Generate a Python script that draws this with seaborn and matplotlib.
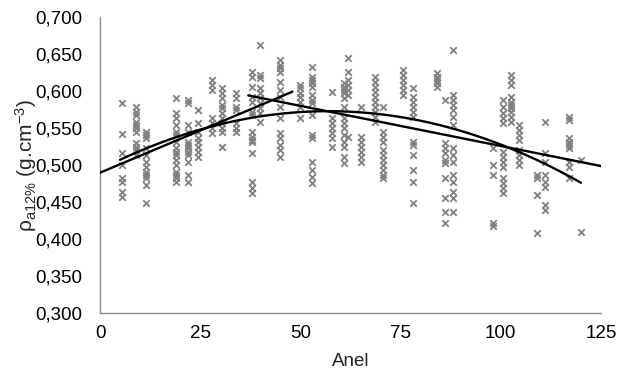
import numpy as np
import pandas as pd
import matplotlib
matplotlib.use("Agg")
import matplotlib.pyplot as plt
import seaborn as sns
from matplotlib.ticker import FuncFormatter

# ---- data ----
rings = [5.5, 9, 11.5, 19, 22, 24.5, 28, 30.5, 34, 38, 40, 45, 50, 53, 58, 61, 62,
         65, 68.5, 70.5, 75.5, 78, 84, 86, 88, 98, 100.5, 102.5, 104.5, 109, 111, 117, 120]
density = [
    [0.584, 0.542, 0.516, 0.500, 0.482, 0.477, 0.464, 0.457],
    [0.578, 0.572, 0.568, 0.558, 0.554, 0.550, 0.545, 0.530, 0.524, 0.520, 0.513],
    [0.545, 0.541, 0.536, 0.523, 0.514, 0.504, 0.497, 0.491, 0.486, 0.482, 0.473, 0.449],
    [0.591, 0.570, 0.564, 0.554, 0.545, 0.541, 0.531, 0.523, 0.518, 0.514, 0.507, 0.500, 0.491, 0.486, 0.482, 0.477],
    [0.588, 0.584, 0.554, 0.545, 0.531, 0.527, 0.523, 0.518, 0.514, 0.504, 0.486, 0.477],
    [0.574, 0.557, 0.545, 0.536, 0.531, 0.524, 0.518, 0.511],
    [0.615, 0.608, 0.601, 0.564, 0.557, 0.550, 0.543],
    [0.604, 0.597, 0.591, 0.581, 0.577, 0.570, 0.564, 0.557, 0.550, 0.545, 0.524],
    [0.597, 0.591, 0.578, 0.574, 0.557, 0.550, 0.545],
    [0.626, 0.619, 0.605, 0.592, 0.585, 0.572, 0.568, 0.545, 0.538, 0.534, 0.531, 0.516, 0.477, 0.469, 0.462],
    [0.662, 0.622, 0.618, 0.604, 0.597, 0.591, 0.584, 0.577, 0.570, 0.558],
    [0.642, 0.635, 0.631, 0.626, 0.612, 0.601, 0.592, 0.578, 0.564, 0.543, 0.536, 0.527, 0.520, 0.511],
    [0.608, 0.604, 0.597, 0.592, 0.585, 0.578, 0.564],
    [0.632, 0.619, 0.615, 0.611, 0.605, 0.595, 0.588, 0.584, 0.568, 0.541, 0.536, 0.504, 0.493, 0.484, 0.476],
    [0.599, 0.564, 0.557, 0.550, 0.543, 0.536, 0.524],
    [0.611, 0.605, 0.601, 0.597, 0.591, 0.578, 0.564, 0.557, 0.550, 0.541, 0.531, 0.524, 0.511, 0.503],
    [0.645, 0.626, 0.615, 0.608, 0.601, 0.595, 0.538],
    [0.578, 0.538, 0.531, 0.524, 0.518, 0.511, 0.504],
    [0.619, 0.612, 0.605, 0.599, 0.592, 0.585, 0.578, 0.572, 0.565, 0.558],
    [0.578, 0.545, 0.538, 0.531, 0.520, 0.514, 0.507, 0.500, 0.493, 0.486, 0.482],
    [0.628, 0.622, 0.615, 0.608, 0.601, 0.595],
    [0.604, 0.592, 0.585, 0.578, 0.572, 0.565, 0.531, 0.527, 0.514, 0.493, 0.477, 0.449],
    [0.624, 0.619, 0.615, 0.611, 0.605],
    [0.588, 0.530, 0.523, 0.516, 0.507, 0.503, 0.482, 0.455, 0.436, 0.422],
    [0.655, 0.595, 0.588, 0.581, 0.574, 0.565, 0.554, 0.523, 0.514, 0.504, 0.486, 0.477, 0.464, 0.455, 0.436],
    [0.523, 0.500, 0.486, 0.422, 0.418],
    [0.588, 0.578, 0.570, 0.564, 0.557, 0.518, 0.511, 0.504, 0.497, 0.482, 0.476, 0.469, 0.462],
    [0.622, 0.615, 0.608, 0.592, 0.585, 0.581, 0.577, 0.572, 0.565, 0.558],
    [0.554, 0.547, 0.541, 0.534, 0.520, 0.514, 0.507, 0.500],
    [0.486, 0.482, 0.459, 0.408],
    [0.558, 0.516, 0.504, 0.486, 0.477, 0.470, 0.446, 0.439],
    [0.565, 0.561, 0.536, 0.531, 0.527, 0.523, 0.504, 0.497, 0.482],
    [0.507, 0.409],
]

# trendlines (coefficients), highest power first
quad_coef = [-0.00002434, 0.002773, 0.49374]
quad_range = [5, 120]
lin1_coef = [0.00228, 0.4896]
lin1_range = [0, 48]
lin2_coef = [-0.001084, 0.6341]
lin2_range = [37, 125]

x_ticks = [0, 25, 50, 75, 100, 125]
y_ticks = [0.300, 0.350, 0.400, 0.450, 0.500, 0.550, 0.600, 0.650, 0.700]

# ---- build table ----
df = pd.DataFrame(
    [(r, v) for r, vals in zip(rings, density) for v in vals],
    columns=["Anel", "dens"],
)

sns.set_theme(style="white")
plt.rcParams["font.family"] = ["Liberation Sans", "DejaVu Sans"]
plt.rcParams["mathtext.fontset"] = "custom"
plt.rcParams["mathtext.rm"] = "Liberation Sans"
plt.rcParams["mathtext.it"] = "Liberation Sans:italic"

fig = plt.figure(figsize=(6.2, 3.73), dpi=100)
ax = fig.add_axes([100 / 620, 1 - 313 / 373, 501 / 620, 296 / 373])

sns.scatterplot(data=df, x="Anel", y="dens", marker="x", color="#808080",
                s=22, linewidth=1.3, ax=ax, zorder=2)

for coef, rng in [(quad_coef, quad_range), (lin1_coef, lin1_range), (lin2_coef, lin2_range)]:
    xs = np.linspace(rng[0], rng[1], 200)
    sns.lineplot(x=xs, y=np.polyval(coef, xs), color="black", linewidth=1.7, ax=ax, zorder=3)

ax.set_xlim(0, 125)
ax.set_ylim(0.3, 0.7)
ax.set_xticks(x_ticks)
ax.set_yticks(y_ticks)
ax.yaxis.set_major_formatter(FuncFormatter(lambda v, p: f"{v:.3f}".replace(".", ",")))
ax.xaxis.set_major_formatter(FuncFormatter(lambda v, p: f"{v:.0f}"))

for s in ["top", "right"]:
    ax.spines[s].set_visible(False)
for s in ["left", "bottom"]:
    ax.spines[s].set_color("#8c8c8c")
    ax.spines[s].set_linewidth(1)
ax.tick_params(axis="both", direction="out", length=3.5, width=1, color="#8c8c8c",
               labelsize=13.5, labelcolor="black")
ax.tick_params(axis="y", pad=9)
ax.tick_params(axis="x", pad=5)

ax.set_xlabel("Anel", fontsize=13.5, labelpad=8)
ax.set_ylabel(r"ρ$_{\mathrm{a12\%}}$ (g.cm$^{-3}$)", fontsize=15, labelpad=0)
ax.yaxis.set_label_coords(-0.122, 0.5)

fig.savefig("out.png", dpi=100)
